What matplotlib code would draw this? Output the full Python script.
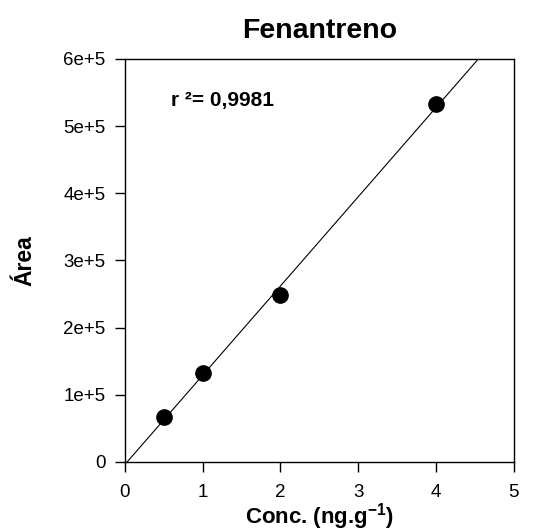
import numpy as np
import matplotlib
matplotlib.use("Agg")
import matplotlib.pyplot as plt

plt.rcParams['font.family'] = ['Liberation Sans', 'DejaVu Sans']
plt.rcParams['mathtext.fontset'] = 'custom'
plt.rcParams['mathtext.rm'] = 'Liberation Sans'
plt.rcParams['mathtext.bf'] = 'Liberation Sans:bold'

# calibration data
conc = [0.5, 1.0, 2.0, 4.0]
area = [67000, 133000, 248000, 533000]
r2_text = "r ²= 0,9981"
xticks = [0, 1, 2, 3, 4, 5]
yticks = [0, 100000, 200000, 300000, 400000, 500000, 600000]
ytick_labels = ["0", "1e+5", "2e+5", "3e+5", "4e+5", "5e+5", "6e+5"]

# linear fit
slope, intercept = np.polyfit(conc, area, 1)
xfit = np.array([0, 5])

fig = plt.figure(figsize=(5.38, 5.31), dpi=100)
ax = fig.add_axes([0.232, 0.130, 0.723, 0.759])

ax.plot(xfit, slope * xfit + intercept, color='black', lw=0.8)
ax.plot(conc, area, 'o', color='black', ms=11)

ax.set_xlim(0, 5)
ax.set_ylim(0, 600000)
ax.set_xticks(xticks)
ax.set_yticks(yticks)
ax.set_yticklabels(ytick_labels)

for s in ax.spines.values():
    s.set_linewidth(1.0)
ax.tick_params(axis='both', direction='out', length=7, width=1.0, labelsize=13.5)
ax.tick_params(axis='x', pad=9)
ax.tick_params(axis='y', pad=7)

ax.text(0.118, 0.883, r2_text, transform=ax.transAxes, fontsize=15,
        fontweight='bold', va='baseline', ha='left')

ax.set_title("Fenantreno", fontsize=20.5, fontweight='bold', pad=15)
ax.set_xlabel(r"Conc. (ng.g$^{\mathbf{-1}}$)", fontsize=16, fontweight='bold', labelpad=0)
ax.set_ylabel("Área", fontsize=16.5, fontweight='bold', labelpad=19)

fig.savefig("out.png", dpi=100)
